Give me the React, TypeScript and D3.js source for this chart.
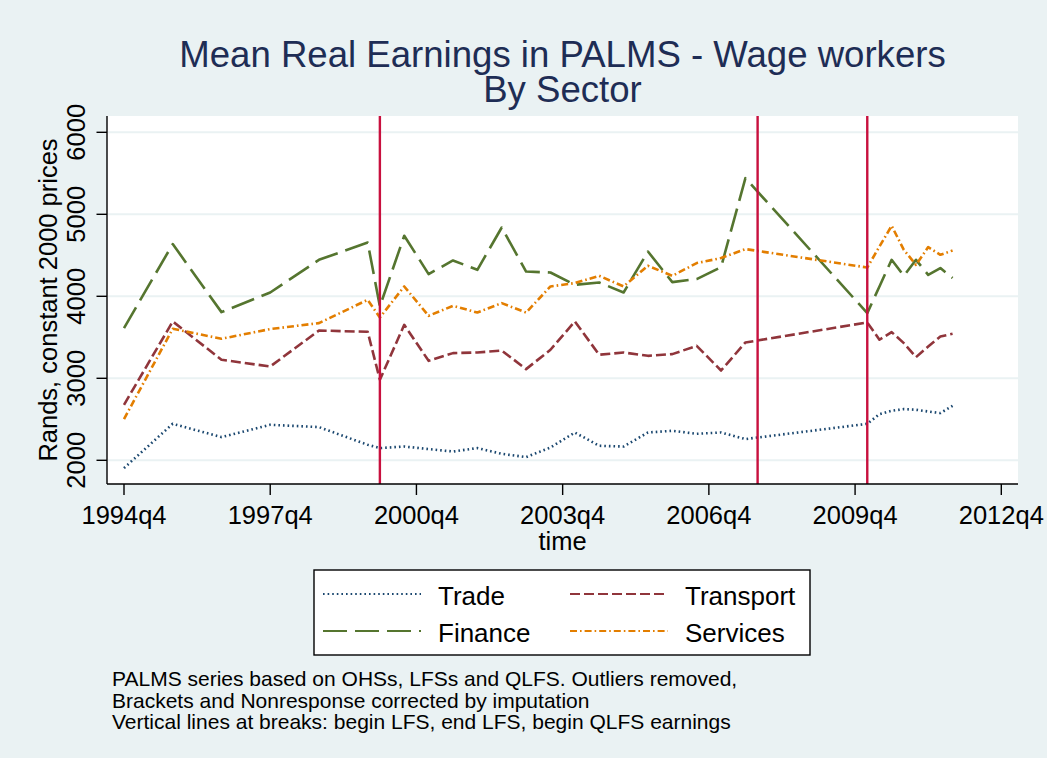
import React from 'react';
import { scaleLinear, line } from 'd3';

// quarters in Stata %tq units (1960q1 = 0)
const quarters = [
  139, 143, 147, 151, 155, 159,
  160, 162, 164, 166, 168, 170, 172, 174, 176, 178, 180, 182, 184, 186, 188, 190,
  200, 201, 202, 203, 204, 205, 206, 207,
];

const trade = [
  1905, 2445, 2283, 2433, 2405, 2189,
  2149, 2168, 2137, 2107, 2149, 2079, 2039, 2156, 2339, 2177, 2168, 2339, 2360, 2323, 2339, 2259,
  2445, 2563, 2604, 2624, 2616, 2595, 2576, 2665,
];
const transport = [
  2677, 3693, 3226, 3144, 3583, 3567,
  2982, 3652, 3213, 3307, 3315, 3339, 3112, 3348, 3693, 3287, 3315, 3274, 3295, 3396, 3095, 3437,
  3681, 3470, 3563, 3429, 3258, 3388, 3510, 3543,
];
const finance = [
  3612, 4637, 3807, 4046, 4445, 4656,
  3876, 4738, 4271, 4437, 4323, 4839, 4302, 4290, 4140, 4168, 4046, 4546, 4173, 4210, 4356, 5441,
  3795, 4120, 4445, 4250, 4445, 4262, 4344, 4222,
];
const services = [
  2502, 3604, 3482, 3600, 3673, 3957,
  3741, 4120, 3762, 3884, 3802, 3917, 3802, 4120, 4161, 4250, 4120, 4372, 4250, 4405, 4466, 4576,
  4351, 4607, 4860, 4567, 4384, 4600, 4506, 4559,
];

const xTicks = [139, 151, 163, 175, 187, 199, 211];
const xTickLabels = ['1994q4', '1997q4', '2000q4', '2003q4', '2006q4', '2009q4', '2012q4'];
const yTicks = [2000, 3000, 4000, 5000, 6000];
const breaks = [160, 191, 200];

const notes = [
  'PALMS series based on OHSs, LFSs and QLFS. Outliers removed,',
  'Brackets and Nonresponse corrected by imputation',
  'Vertical lines at breaks: begin LFS, end LFS, begin QLFS earnings',
];

const series = [
  { name: 'Trade', values: trade, color: '#1A476F', dash: '1.6,3' },
  { name: 'Transport', values: transport, color: '#90353B', dash: '10,4' },
  { name: 'Finance', values: finance, color: '#55752F', dash: '24,8' },
  { name: 'Services', values: services, color: '#E37E00', dash: '7,3,1.6,3' },
];

export default function App() {
  const width = 1047;
  const height = 758;
  const font = '"Liberation Sans", Arial, Helvetica, sans-serif';
  const bg = '#EAF2F3';

  // plot region
  const left = 107;
  const right = 1018;
  const top = 116;
  const bottom = 484;

  const xScale = scaleLinear().domain([139, 211]).range([124, 1001.3]);
  const yScale = scaleLinear().domain([2000, 6000]).range([460.3, 132.3]);

  const path = line<number>()
    .x((d, i) => xScale(quarters[i]))
    .y(d => yScale(d));

  const midX = (left + right) / 2;
  const legendRows = [[series[0], series[1]], [series[2], series[3]]];

  return (
    <svg
      width={width}
      height={height}
      style={{ position: 'absolute', left: 0, top: 0 }}
      fontFamily={font}>
      <rect width={width} height={height} fill={bg} />
      <rect x={left} y={top} width={right - left} height={bottom - top} fill="#fff" />

      {/* grid */}
      {yTicks.map(t => (
        <line key={'g' + t} x1={left + 1} x2={right} y1={yScale(t)} y2={yScale(t)} stroke={bg} strokeWidth={2} />
      ))}

      {/* series */}
      {series.map(s => (
        <path
          key={s.name}
          d={path(s.values) || ''}
          fill="none"
          stroke={s.color}
          strokeWidth={2.6}
          strokeDasharray={s.dash}
          strokeLinejoin="round"
        />
      ))}

      {/* breaks */}
      {breaks.map(b => (
        <line key={'b' + b} x1={xScale(b)} x2={xScale(b)} y1={top} y2={bottom} stroke="#C8103E" strokeWidth={2.4} />
      ))}

      {/* axes */}
      <line x1={left} x2={left} y1={top} y2={bottom} stroke="#000" strokeWidth={1.4} />
      <line x1={left} x2={right} y1={bottom} y2={bottom} stroke="#000" strokeWidth={1.4} />
      {yTicks.map(t => (
        <g key={'y' + t}>
          <line x1={96.5} x2={left} y1={yScale(t)} y2={yScale(t)} stroke="#000" strokeWidth={1.4} />
          <text transform={`translate(85,${yScale(t)}) rotate(-90)`} textAnchor="middle" fontSize={25.5} fill="#000">
            {t}
          </text>
        </g>
      ))}
      {xTicks.map((t, i) => (
        <g key={'x' + t}>
          <line x1={xScale(t)} x2={xScale(t)} y1={bottom} y2={495} stroke="#000" strokeWidth={1.4} />
          <text x={xScale(t)} y={524} textAnchor="middle" fontSize={25.5} fill="#000">
            {xTickLabels[i]}
          </text>
        </g>
      ))}
      <text x={midX} y={550} textAnchor="middle" fontSize={25.5} fill="#000">
        time
      </text>
      <text transform={`translate(57,${(top + bottom) / 2}) rotate(-90)`} textAnchor="middle" fontSize={25.5} fill="#000">
        Rands, constant 2000 prices
      </text>

      {/* title */}
      <text x={midX} y={67} textAnchor="middle" fontSize={36.6} fill="#1E2D55">
        Mean Real Earnings in PALMS - Wage workers
      </text>
      <text x={midX} y={102} textAnchor="middle" fontSize={36.6} fill="#1E2D55">
        By Sector
      </text>

      {/* legend */}
      <rect x={314} y={570} width={496} height={85} fill="#fff" stroke="#000" strokeWidth={1.4} />
      {legendRows.map((row, r) =>
        row.map((s, c) => {
          const x0 = c === 0 ? 323 : 570;
          const ly = r === 0 ? 594 : 631;
          return (
            <g key={s.name}>
              <line x1={x0} x2={x0 + 98} y1={ly} y2={ly} stroke={s.color} strokeWidth={2.2} strokeDasharray={s.dash} />
              <text x={x0 + 115} y={ly + 11} fontSize={26} fill="#000">
                {s.name}
              </text>
            </g>
          );
        })
      )}

      {/* note */}
      {notes.map((n, i) => (
        <text key={i} x={112} y={686 + i * 21.5} fontSize={21} fill="#000">
          {n}
        </text>
      ))}
    </svg>
  );
}
